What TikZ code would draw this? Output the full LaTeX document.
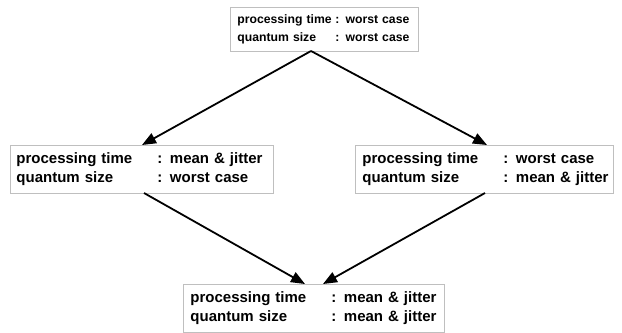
\documentclass[tikz,border=0pt]{standalone}
\usepackage{fontspec}
\setmainfont{Liberation Sans}
\usetikzlibrary{arrows.meta}
\newcommand{\pqrow}[3]{\mbox{\makebox[#1][l]{#2}: #3}}
\tikzset{
  box/.style={draw=black!25, line width=0.9bp, fill=white, anchor=north west,
    align=left, inner ysep=0pt},
  big/.style={font=\bfseries\fontsize{15bp}{19bp}\selectfont},
  small/.style={font=\bfseries\fontsize{12.2bp}{18bp}\selectfont},
  conn/.style={line width=1.8bp, -{Triangle[length=14bp,width=11bp]}}
}
\begin{document}
\begin{tikzpicture}[x=1bp,y=-1bp]
\useasboundingbox (0,0) rectangle (622,332);
\clip (0,0) rectangle (622,332);
\node[box, small, minimum width=188bp, minimum height=44bp, text width=174bp, inner xsep=7bp] (top) at (230,7)
  {\pqrow{98bp}{processing time}{worst case}\\ \pqrow{98bp}{quantum size}{worst case}};
\node[box, big, minimum width=263bp, minimum height=48bp, text width=251bp, inner xsep=6bp] (left) at (10,145)
  {\pqrow{141bp}{processing time}{mean \& jitter}\\ \pqrow{141bp}{quantum size}{worst case}};
\node[box, big, minimum width=258bp, minimum height=48bp, text width=244bp, inner xsep=7bp] (right) at (355,145)
  {\pqrow{141bp}{processing time}{worst case}\\ \pqrow{141bp}{quantum size}{mean \& jitter}};
\node[box, big, minimum width=261bp, minimum height=48bp, text width=247bp, inner xsep=7bp] (bottom) at (183,284)
  {\pqrow{141bp}{processing time}{mean \& jitter}\\ \pqrow{141bp}{quantum size}{mean \& jitter}};
\coordinate (ts) at (311,51);
\coordinate (lt) at (142,145);
\coordinate (rt) at (487,145);
\coordinate (lb) at (144,193);
\coordinate (rb) at (485,193);
\coordinate (bl) at (305,284);
\coordinate (br) at (323,284);
\draw[conn] (ts) -- (lt);
\draw[conn] (ts) -- (rt);
\draw[conn] (lb) -- (bl);
\draw[conn] (rb) -- (br);
\end{tikzpicture}
\end{document}
